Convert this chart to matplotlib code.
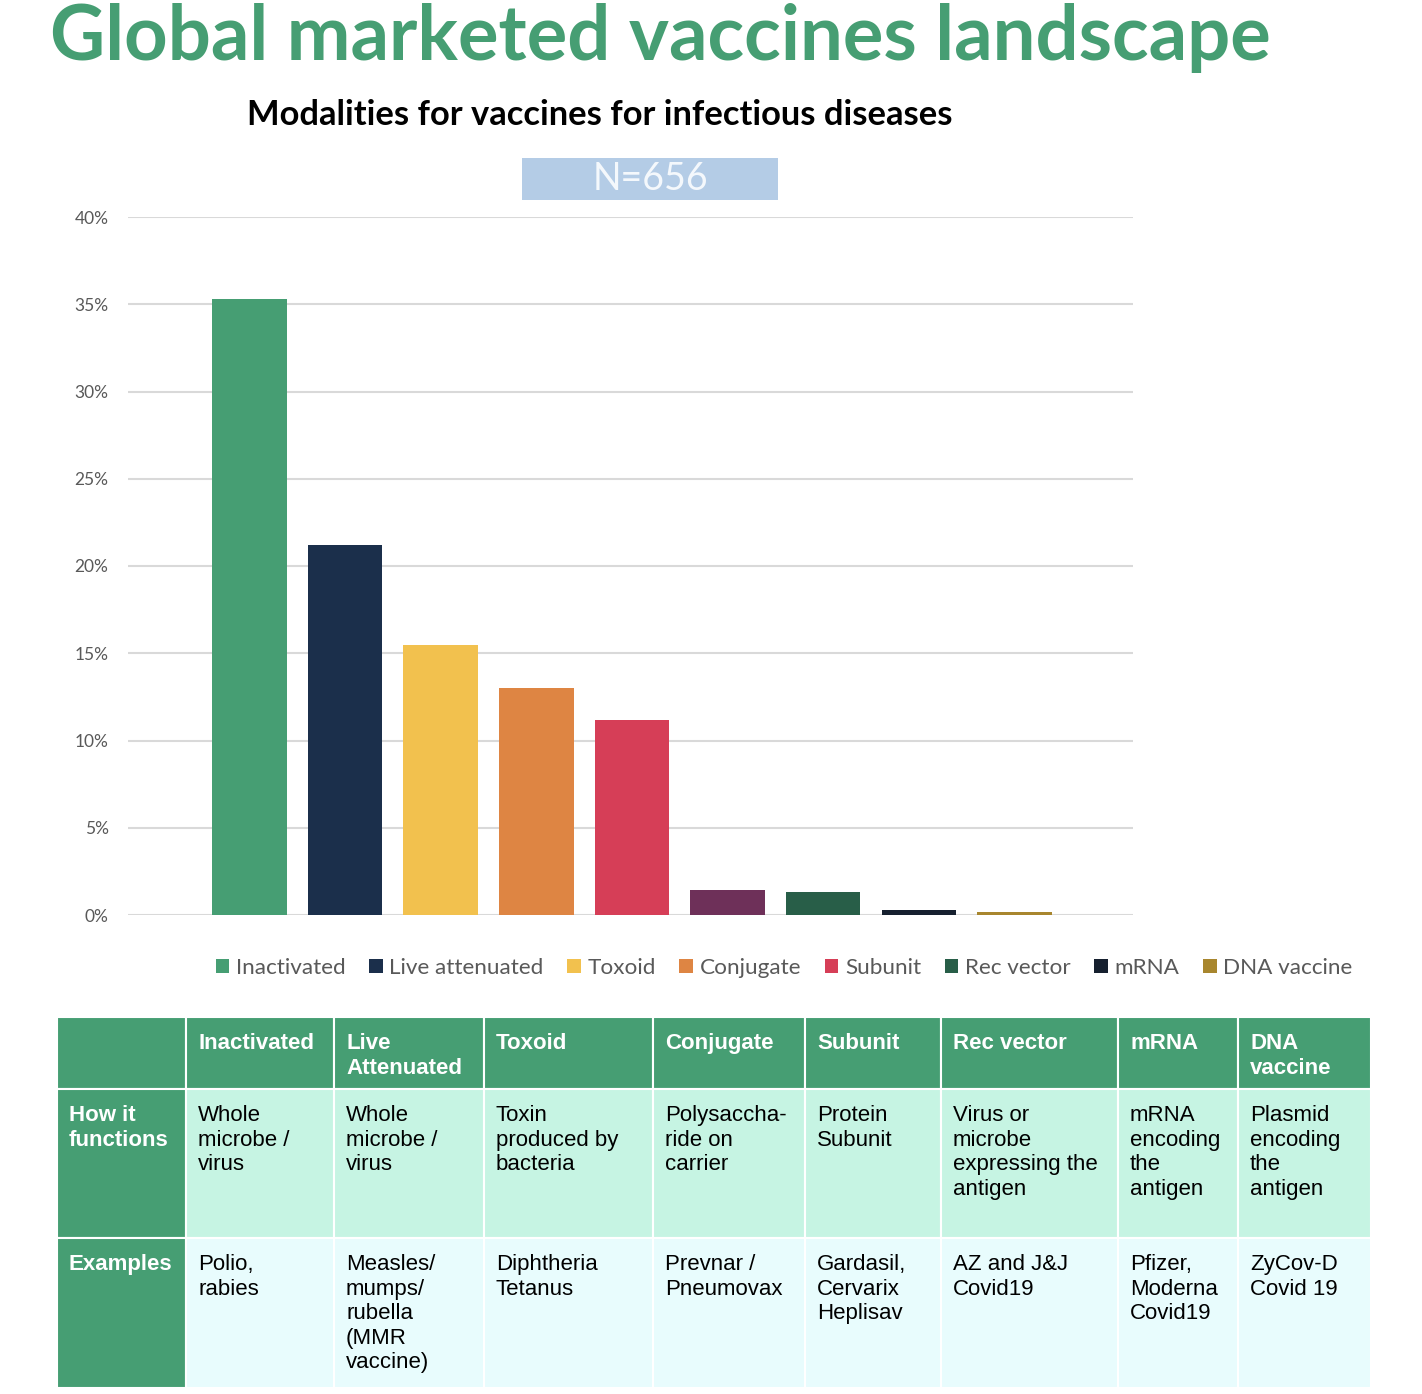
import matplotlib
matplotlib.use("Agg")
import matplotlib.pyplot as plt
from matplotlib.patches import Rectangle, Patch

# ---------------- data ----------------
categories = ["Inactivated", "Live attenuated", "Toxoid", "Conjugate", "Subunit",
              "Other", "Rec vector", "mRNA", "DNA vaccine"]
shares = [0.353, 0.212, 0.155, 0.130, 0.112, 0.0143, 0.013, 0.0028, 0.0015]
colors = ["#469E73", "#1B2F4B", "#F2C14E", "#DE8543", "#D63E57",
          "#6E3059", "#285E48", "#16202F", "#A8862E"]
in_legend = [True, True, True, True, True, False, True, True, True]
yticks = [0, 0.05, 0.10, 0.15, 0.20, 0.25, 0.30, 0.35, 0.40]
ytick_labels = ["0%", "5%", "10%", "15%", "20%", "25%", "30%", "35%", "40%"]

table_cols = ["", "Inactivated", "Live\nAttenuated", "Toxoid", "Conjugate", "Subunit",
              "Rec vector", "mRNA", "DNA\nvaccine"]
table_how = ["How it\nfunctions", "Whole\nmicrobe /\nvirus", "Whole\nmicrobe /\nvirus",
             "Toxin\nproduced by\nbacteria", "Polysaccha-\nride on\ncarrier",
             "Protein\nSubunit", "Virus or\nmicrobe\nexpressing the\nantigen",
             "mRNA\nencoding\nthe\nantigen", "Plasmid\nencoding\nthe\nantigen"]
table_ex = ["Examples", "Polio,\nrabies", "Measles/\nmumps/\nrubella\n(MMR\nvaccine)",
            "Diphtheria\nTetanus", "Prevnar /\nPneumovax", "Gardasil,\nCervarix\nHeplisav",
            "AZ and J&J\nCovid19", "Pfizer,\nModerna\nCovid19", "ZyCov-D\nCovid 19"]

W, H = 1422, 1394
fig = plt.figure(figsize=(W / 100, H / 100), dpi=100)
fig.patch.set_facecolor("white")

CAL = ["Lato", "DejaVu Sans"]
ARI = ["Liberation Sans", "DejaVu Sans"]

# ---------------- titles ----------------
fig.text(50 / W, 1 - 38 / H, "Global marketed vaccines landscape", family=CAL,
         fontsize=54.7, fontweight="bold", color="#469E73", ha="left", va="center")
fig.text(600 / W, 1 - 115 / H, "Modalities for vaccines for infectious diseases",
         family=CAL, fontsize=24.8, fontweight="bold", color="black", ha="center", va="center")
fig.patches.append(Rectangle((522 / W, 1 - 200 / H), 256 / W, 42 / H,
                             transform=fig.transFigure, facecolor="#B4CCE6",
                             edgecolor="none", figure=fig))
fig.text(650 / W, 1 - 179 / H, "N=656", family=CAL, fontsize=27, color="#F4F8FC",
         ha="center", va="center")

# ---------------- bar chart ----------------
ax = fig.add_axes([128 / W, 1 - 915 / H, (1133 - 128) / W, (915 - 217) / H])
x = list(range(len(categories)))
bars = ax.bar(x, shares, width=0.78, color=colors, zorder=3)
ax.set_xlim(-1.27, 9.24)
ax.set_ylim(0, 0.40)
ax.set_yticks(yticks)
ax.set_yticklabels(ytick_labels, family=CAL, fontsize=12.5, color="#595959")
ax.set_xticks([])
ax.grid(axis="y", color="#D9D9D9", linewidth=1.5, zorder=0)
for s in ax.spines.values():
    s.set_visible(False)
ax.tick_params(axis="y", length=0, pad=14)

handles = [Patch(facecolor=c, edgecolor="none", label=l)
           for c, l, f in zip(colors, categories, in_legend) if f]
fig.legend(handles=handles, loc="center", bbox_to_anchor=(784 / W, 1 - 968 / H),
           ncol=8, frameon=False, handlelength=0.6, handleheight=0.6, handletextpad=0.3,
           columnspacing=1.05, prop={"family": CAL, "size": 16.2}, labelcolor="#595959")

# ---------------- table ----------------
tax = fig.add_axes([0, 0, 1, 1])
tax.set_xlim(0, W)
tax.set_ylim(H, 0)
tax.axis("off")
col_edges = [57, 186, 334, 484, 653, 805, 941, 1118, 1238, 1371]
row_edges = [1017, 1089, 1238, 1388]
green = "#469E73"
row_colors = [green, "#C6F4E3", "#E8FCFD"]
rows = [table_cols, table_how, table_ex]
for r in range(3):
    for c in range(9):
        x0, x1 = col_edges[c], col_edges[c + 1]
        y0, y1 = row_edges[r], row_edges[r + 1]
        fc = green if (r == 0 or c == 0) else row_colors[r]
        tax.add_patch(Rectangle((x0, y0), x1 - x0, y1 - y0, facecolor=fc,
                                edgecolor="white", linewidth=1.5))
        txt = rows[r][c]
        bold = (r == 0 or c == 0)
        tax.text(x0 + 12, y0 + 16, txt, family=ARI, fontsize=16,
                 fontweight="bold" if bold else "normal",
                 color="white" if bold else "black", ha="left", va="top",
                 linespacing=1.22)

fig.savefig("out.png", dpi=100)
